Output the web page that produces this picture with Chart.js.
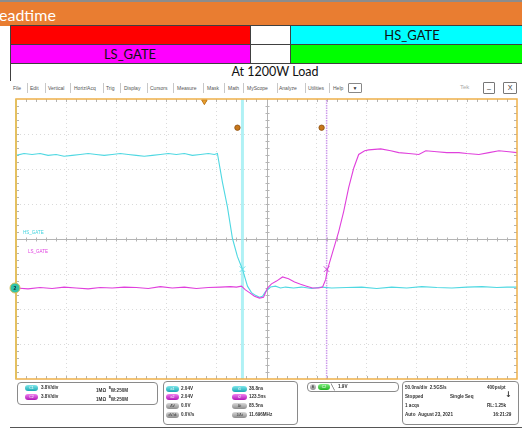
<!DOCTYPE html>
<html>
<head>
<meta charset="utf-8">
<script src="https://cdn.jsdelivr.net/npm/chart.js@4.4.0/dist/chart.umd.min.js"></script>
<style>
  body { margin: 0; width: 522px; height: 430px; overflow: hidden; background: #fff; position: relative; font-family: "Liberation Sans", Arial, sans-serif; }
  .abs { position: absolute; box-sizing: border-box; }
  .hdr { font-family: Lato, "Open Sans", sans-serif; color: #111; white-space: nowrap; }
  .menu { font-size: 5px; color: #555; top: 85px; white-space: nowrap; }
  .sep { width: 1px; height: 10px; top: 83px; background: #c8c8c8; }
  .box { border: 1px solid #8a8a8a; border-radius: 4px; background: #fff; }
  .t { font-size: 4.6px; color: #333; font-weight: bold; white-space: nowrap; line-height: 6px; }
  .pill { height: 6px; border-radius: 3px; font-size: 3.5px; line-height: 6px; text-align: center; color: #fff; }
  .teal { background: linear-gradient(#7fe6ea, #1aa9b4); }
  .mag { background: linear-gradient(#f080f0, #b018b8); }
  .gray { background: linear-gradient(#d8d8d8, #8c8c8c); color: #333; }
  .grn { background: linear-gradient(#80f080, #20b020); }
</style>
</head>
<body>
<!-- header -->
<div class="abs" style="left:0;top:0;width:522px;height:26px;background:#e97d31;border-top:2px solid #8c8c8c;"></div>
<div class="abs hdr" style="left:-1px;top:5px;font-size:16px;color:#fff;">eadtime</div>
<div class="abs" style="left:10px;top:25px;width:241px;height:20px;background:#ff0000;border:1px solid #404040;"></div>
<div class="abs" style="left:250px;top:25px;width:41px;height:20px;background:#fff;border:1px solid #404040;"></div>
<div class="abs" style="left:290px;top:25px;width:240px;height:20px;background:#00ffff;border:1px solid #404040;"></div>
<div class="abs" style="left:10px;top:44px;width:241px;height:20px;background:#ff00ff;border:1px solid #404040;"></div>
<div class="abs" style="left:250px;top:44px;width:41px;height:20px;background:#fff;border:1px solid #404040;"></div>
<div class="abs" style="left:290px;top:44px;width:240px;height:20px;background:#00ff00;border:1px solid #404040;"></div>
<div class="abs" style="left:10px;top:63px;width:520px;height:18px;border-left:1px solid #404040;"></div>
<div class="abs hdr" style="left:382px;top:27px;width:60px;text-align:center;font-size:13px;">HS_GATE</div>
<div class="abs hdr" style="left:100px;top:46px;width:60px;text-align:center;font-size:13px;">LS_GATE</div>
<div class="abs hdr" style="left:225px;top:64px;width:100px;text-align:center;font-size:12.5px;">At 1200W Load</div>

<!-- scope menu bar -->
<div class="abs menu" style="left:13px">File</div>
<div class="abs sep" style="left:27px"></div>
<div class="abs menu" style="left:30px">Edit</div>
<div class="abs sep" style="left:45px"></div>
<div class="abs menu" style="left:48px">Vertical</div>
<div class="abs sep" style="left:70px"></div>
<div class="abs menu" style="left:74px">Horiz/Acq</div>
<div class="abs sep" style="left:103px"></div>
<div class="abs menu" style="left:106px">Trig</div>
<div class="abs sep" style="left:120px"></div>
<div class="abs menu" style="left:124px">Display</div>
<div class="abs sep" style="left:147px"></div>
<div class="abs menu" style="left:150px">Cursors</div>
<div class="abs sep" style="left:173px"></div>
<div class="abs menu" style="left:177px">Measure</div>
<div class="abs sep" style="left:203px"></div>
<div class="abs menu" style="left:207px">Mask</div>
<div class="abs sep" style="left:224px"></div>
<div class="abs menu" style="left:228px">Math</div>
<div class="abs sep" style="left:243px"></div>
<div class="abs menu" style="left:247px">MyScope</div>
<div class="abs sep" style="left:277px"></div>
<div class="abs menu" style="left:279px">Analyze</div>
<div class="abs sep" style="left:305px"></div>
<div class="abs menu" style="left:308px">Utilities</div>
<div class="abs sep" style="left:329px"></div>
<div class="abs menu" style="left:333px">Help</div>
<div class="abs" style="left:348px;top:83px;width:14px;height:10px;border:1px solid #888;border-radius:1px;font-size:5px;text-align:center;line-height:8px;color:#333;">&#9660;</div>
<div class="abs menu" style="left:460px;color:#aaa;font-size:6px;top:84px;">Tek</div>
<div class="abs" style="left:483px;top:82px;width:12px;height:12px;border:1px solid #777;border-radius:1px;font-size:7px;text-align:center;line-height:11px;color:#333;">&#8211;</div>
<div class="abs" style="left:503px;top:82px;width:14px;height:12px;border:1px solid #777;border-radius:1px;font-size:7px;text-align:center;line-height:10px;color:#333;">X</div>

<canvas id="scope" class="abs" style="left:0;top:94px;" width="522" height="290"></canvas>

<!-- bottom readout panels -->
<div class="abs box" style="left:17px;top:382px;width:141px;height:23px;"></div>
<div class="abs pill teal" style="left:25px;top:385px;width:13px;">C1</div>
<div class="abs t" style="left:41px;top:385px;">3.8V/div</div>
<div class="abs t" style="left:96px;top:385px;">1MΩ &nbsp;<sup style="font-size:3px">B</sup>W:250M</div>
<div class="abs pill mag" style="left:25px;top:394px;width:13px;">C2</div>
<div class="abs t" style="left:41px;top:394px;">3.8V/div</div>
<div class="abs t" style="left:96px;top:394px;">1MΩ &nbsp;<sup style="font-size:3px">B</sup>W:250M</div>

<div class="abs box" style="left:163px;top:381px;width:135px;height:44px;"></div>
<div class="abs pill teal" style="left:166px;top:386px;width:13px;">a1</div>
<div class="abs t" style="left:181px;top:386px;">2.04V</div>
<div class="abs pill teal" style="left:232px;top:386px;width:15px;">t1</div>
<div class="abs t" style="left:249px;top:386px;">38.8ns</div>
<div class="abs pill mag" style="left:166px;top:394px;width:13px;">a2</div>
<div class="abs t" style="left:181px;top:394px;">2.04V</div>
<div class="abs pill mag" style="left:232px;top:394px;width:15px;">t2</div>
<div class="abs t" style="left:249px;top:394px;">123.5ns</div>
<div class="abs pill gray" style="left:166px;top:403px;width:13px;">ΔV</div>
<div class="abs t" style="left:181px;top:403px;">0.0V</div>
<div class="abs pill gray" style="left:232px;top:403px;width:15px;">Δt</div>
<div class="abs t" style="left:249px;top:403px;">85.5ns</div>
<div class="abs pill gray" style="left:166px;top:412px;width:13px;">dV/dt</div>
<div class="abs t" style="left:181px;top:412px;">0.0V/s</div>
<div class="abs pill gray" style="left:232px;top:412px;width:15px;">1/Δt</div>
<div class="abs t" style="left:249px;top:412px;">11.696MHz</div>

<div class="abs box" style="left:307px;top:382px;width:92px;height:10px;"></div>
<div class="abs pill gray" style="left:310px;top:384px;width:6px;">B</div>
<div class="abs pill grn" style="left:318px;top:384px;width:12px;">C2</div>
<div class="abs t" style="left:331px;top:384px;font-size:6px;font-weight:normal;">&#9586;</div>
<div class="abs t" style="left:338px;top:384px;">1.9V</div>

<div class="abs box" style="left:402px;top:381px;width:117px;height:44px;"></div>
<div class="abs t" style="left:405px;top:385px;">50.0ns/div &nbsp;2.5GS/s</div>
<div class="abs t" style="left:487px;top:385px;">400ps/pt</div>
<div class="abs t" style="left:405px;top:394px;">Stopped</div>
<div class="abs t" style="left:450px;top:394px;">Single Seq</div>
<div class="abs t" style="left:505px;top:392px;font-size:8px;font-family:'DejaVu Sans';">&#8595;</div>
<div class="abs t" style="left:405px;top:403px;">1 acqs</div>
<div class="abs t" style="left:487px;top:403px;">RL:1.25k</div>
<div class="abs t" style="left:405px;top:412px;">Auto</div>
<div class="abs t" style="left:418px;top:412px;">August 23, 2021</div>
<div class="abs t" style="left:493px;top:412px;">16:21:29</div>
<div class="abs" style="left:10px;top:427px;width:512px;height:1px;background:#555;"></div>

<script>
// horizontal: ns (50 ns/div, trigger at centre), vertical: volts (3.8 V/div)
const voltsPerDiv = 3.8;
const groundDiv = -1.4;   // both channels share the same ground marker

// HS_GATE (cyan)
const hsTime = [-250,-242,-234,-226,-218,-210,-202,-194,-186,-178,-170,-162,-154,-146,-138,-130,-122,-114,-106,-98,-90,-82,-74,-66,-58,-52,-49,-44,-39,-34,-29,-24,-19,-15,-11,-7,-4,-1,1,4,9,14,19,27,35,45,55,65,80,95,110,125,140,155,170,185,200,215,230,240,250];
const hsVolt = [14.4,14.6,14.5,14.6,14.4,14.5,14.3,14.4,14.5,14.6,14.5,14.4,14.5,14.6,14.5,14.4,14.3,14.4,14.5,14.6,14.5,14.6,14.4,14.5,14.6,14.5,14.6,11.5,8.8,5.4,3.4,2.04,0.2,-0.5,-0.8,-1.0,-0.9,-0.4,-0.2,0.1,0.2,0.0,0.1,0.0,0.1,-0.05,0.1,0.0,0.05,0.1,-0.05,0.1,0.0,0.15,0.05,0.0,0.1,0.15,0.05,0.1,0.1];

// LS_GATE (magenta)
const lsTime = [-250,-238,-226,-214,-202,-190,-178,-166,-154,-142,-130,-118,-106,-94,-82,-70,-58,-46,-36,-30,-25,-21,-17,-12,-7,-3,1,5,10,16,22,28,34,40,46,52,56,59,61,66,72,77,82,87,92,98,102,114,124,132,142,152,159,170,180,192,200,212,222,232,242,250];
const lsVolt = [0.0,-0.1,0.05,-0.05,0.1,0.0,-0.1,0.05,0.0,0.1,0.05,-0.05,0.15,0.0,0.1,-0.05,0.05,0.1,0.15,0.1,0.2,-0.2,-0.5,-0.9,-1.1,-1.0,0.0,0.45,0.75,1.2,1.0,0.65,0.4,0.2,0.0,0.0,0.1,0.9,2.04,3.9,6.1,8.3,10.9,13.0,14.5,14.9,15.0,15.1,14.9,14.7,14.6,14.5,14.9,14.8,14.7,14.7,14.6,14.5,14.7,14.9,14.8,14.7];

// cursors
const cursorTime = [-24, 60];
const cursorVolt = [2.04, 2.04];
const triggerTime = -62;

function toDiv(v) { return v / voltsPerDiv + groundDiv; }
function pts(ts, vs) { return ts.map((t, i) => ({ x: t, y: toDiv(vs[i]) })); }

const scopeDecor = {
  id: 'scopeDecor',
  beforeDatasetsDraw(chart) {
    const { ctx, chartArea: a, scales: { x, y } } = chart;
    ctx.save();
    ctx.strokeStyle = '#b4b4b4';
    ctx.lineWidth = 1;
    const cx = Math.round(x.getPixelForValue(0)) + 0.5;
    const cy = Math.round(y.getPixelForValue(0)) + 0.5;
    ctx.beginPath();
    ctx.moveTo(cx, a.top); ctx.lineTo(cx, a.bottom);
    ctx.moveTo(a.left, cy); ctx.lineTo(a.right, cy);
    for (let t = -240; t < 250; t += 10) {
      const px = Math.round(x.getPixelForValue(t)) + 0.5;
      ctx.moveTo(px, cy - 2); ctx.lineTo(px, cy + 2);
      ctx.moveTo(px, a.top); ctx.lineTo(px, a.top + 3);
      ctx.moveTo(px, a.bottom); ctx.lineTo(px, a.bottom - 3);
    }
    for (let d = -19; d < 20; d++) {
      const py = Math.round(y.getPixelForValue(d / 5)) + 0.5;
      ctx.moveTo(cx - 2, py); ctx.lineTo(cx + 2, py);
      ctx.moveTo(a.left, py); ctx.lineTo(a.left + 3, py);
      ctx.moveTo(a.right, py); ctx.lineTo(a.right - 3, py);
    }
    ctx.stroke();
    ctx.font = '4.5px "Liberation Sans"';
    ctx.textBaseline = 'middle';
    ctx.fillStyle = '#3fd3de';
    ctx.fillText('HS_GATE', a.left + 7, y.getPixelForValue(0.18));
    ctx.fillStyle = '#e040e0';
    ctx.fillText('LS_GATE', a.left + 12, y.getPixelForValue(-0.36));
    ctx.restore();
  },
  afterDraw(chart) {
    const { ctx, chartArea: a, scales: { y } } = chart;
    ctx.save();
    ctx.strokeStyle = '#eeb04a';
    ctx.lineWidth = 1.5;
    ctx.strokeRect(a.left, a.top, a.right - a.left, a.bottom - a.top);
    ctx.strokeStyle = '#e4c060';
    ctx.lineWidth = 2;
    ctx.beginPath(); ctx.moveTo(a.left, a.top); ctx.lineTo(a.left, a.bottom); ctx.stroke();
    // channel ground marker
    const gy = y.getPixelForValue(groundDiv);
    ctx.beginPath();
    ctx.arc(a.left - 1, gy, 5, 0, Math.PI * 2);
    ctx.fillStyle = '#2fc2a8';
    ctx.fill();
    ctx.strokeStyle = '#d8c060';
    ctx.lineWidth = 1;
    ctx.stroke();
    ctx.fillStyle = '#123';
    ctx.font = 'bold 5px "Liberation Sans"';
    ctx.textAlign = 'center';
    ctx.textBaseline = 'middle';
    ctx.fillText('2', a.left - 1, gy + 0.5);
    ctx.restore();
  }
};

const gridColor = (c, edge) => (Math.abs(c.tick.value) === edge || c.tick.value === 0) ? 'rgba(0,0,0,0)' : '#dadada';

new Chart(document.getElementById('scope'), {
  type: 'line',
  data: {
    datasets: [
      { data: pts(hsTime, hsVolt), borderColor: '#4fd8e2', borderWidth: 1.1, pointRadius: 0, tension: 0, order: 2 },
      { data: pts(lsTime, lsVolt), borderColor: '#e040dc', borderWidth: 1.1, pointRadius: 0, tension: 0, order: 1 },
      { data: [{ x: cursorTime[0], y: -4 }, { x: cursorTime[0], y: 4 }], borderColor: 'rgba(150,236,242,0.75)', borderWidth: 3, pointRadius: 0, order: 5 },
      { data: [{ x: cursorTime[1], y: -4 }, { x: cursorTime[1], y: 4 }], borderColor: '#cc9aea', borderWidth: 1.5, borderDash: [1.5, 1], pointRadius: 0, order: 5 },
      { data: [{ x: cursorTime[0], y: toDiv(cursorVolt[0]) }], showLine: false, pointStyle: 'crossRot', pointRadius: 4, borderColor: '#6fe0ea', borderWidth: 1, order: 0 },
      { data: [{ x: cursorTime[1], y: toDiv(cursorVolt[1]) }], showLine: false, pointStyle: 'crossRot', pointRadius: 4, borderColor: '#d050d8', borderWidth: 1, order: 0 },
      { data: [{ x: cursorTime[0] - 5, y: 3.18 }, { x: cursorTime[1] - 5, y: 3.18 }], showLine: false, pointRadius: 2.7, backgroundColor: '#c8781a', borderColor: '#8a4e10', borderWidth: 0.8, order: 0 },
      { data: [{ x: triggerTime, y: 3.93 }], showLine: false, pointStyle: 'triangle', rotation: 180, pointRadius: 3.2, backgroundColor: '#e8a030', borderColor: '#c07818', borderWidth: 1, clip: false, order: 0 }
    ]
  },
  options: {
    responsive: false,
    animation: false,
    devicePixelRatio: 1,
    layout: { padding: { left: 16, top: 2, right: 3, bottom: 5 } },
    plugins: { legend: { display: false }, tooltip: { enabled: false } },
    scales: {
      x: {
        type: 'linear', min: -250, max: 250,
        ticks: { display: false, stepSize: 50 },
        grid: { drawTicks: false, color: c => gridColor(c, 250) },
        border: { display: false, dash: [1, 3] }
      },
      y: {
        min: -4, max: 4,
        ticks: { display: false, stepSize: 1 },
        grid: { drawTicks: false, color: c => gridColor(c, 4) },
        border: { display: false, dash: [1, 3] }
      }
    }
  },
  plugins: [scopeDecor]
});
</script>
</body>
</html>
